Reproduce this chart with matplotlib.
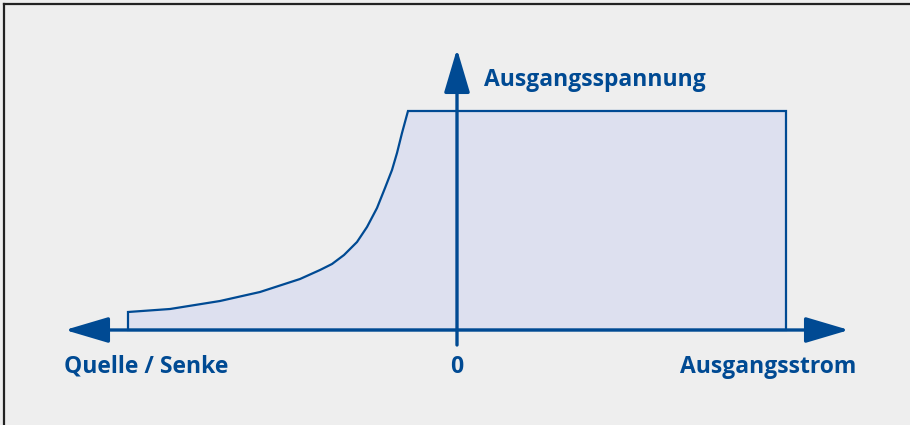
import matplotlib
matplotlib.use("Agg")
import matplotlib.pyplot as plt
from matplotlib.patches import Polygon

# Operating-area outline (current relative to origin, voltage relative to origin)
curve_current = [-329, -329, -287, -237, -197, -157, -137, -125, -113, -100, -90,
                 -80, -72, -65, -60, -55, -49]
curve_voltage = [0, 18, 21, 29, 38, 51, 60, 66, 75, 88, 103,
                 122, 142, 160, 177, 197, 219]
max_current = 329
max_voltage = 219

x_label_left = "Quelle / Senke"
x_label_right = "Ausgangsstrom"
y_label = "Ausgangsspannung"
origin_label = "0"

BLUE = "#004a93"
FILL = "#dde0ef"
BG = "#eeeeee"

fig = plt.figure(figsize=(9.1, 4.25), dpi=100, facecolor=BG)
ax = fig.add_axes([0, 0, 1, 1])
ax.set_facecolor(BG)
ax.set_xlim(-457, 453)
ax.set_ylim(-95, 330)
ax.axis("off")

xs = list(curve_current) + [max_current, max_current]
ys = list(curve_voltage) + [max_voltage, 0]
poly = Polygon(list(zip(xs, ys)), closed=True, facecolor=FILL, edgecolor=BLUE,
               lw=1.6, zorder=1, joinstyle="miter")
ax.add_patch(poly)

# axes with arrows
arr = dict(arrowstyle="-|>,head_length=1.35,head_width=0.4", mutation_scale=20,
           lw=2.4, color=BLUE, shrinkA=0, shrinkB=0)
ax.annotate("", xy=(-392, 0), xytext=(0, 0), arrowprops=arr, zorder=3)
ax.annotate("", xy=(392, 0), xytext=(0, 0), arrowprops=arr, zorder=3)
ax.annotate("", xy=(0, 281), xytext=(0, -15), arrowprops=arr, zorder=3)

font = dict(family="Open Sans", weight="bold", size=16.5, color=BLUE)
ax.text(27, 244, y_label, ha="left", va="baseline", **font)
ax.text(-393, -43, x_label_left, ha="left", va="baseline", **font)
ax.text(0, -43, origin_label, ha="center", va="baseline", **font)
ax.text(399, -43, x_label_right, ha="right", va="baseline", **font)

# frame lines (top and left)
fig.add_artist(plt.Line2D([4 / 910, 4 / 910], [0, 1 - 4 / 425], color="#222222", lw=1.6))
fig.add_artist(plt.Line2D([4 / 910, 1], [1 - 4 / 425, 1 - 4 / 425], color="#222222", lw=1.6))

fig.savefig("out.png", dpi=100, facecolor=BG)
